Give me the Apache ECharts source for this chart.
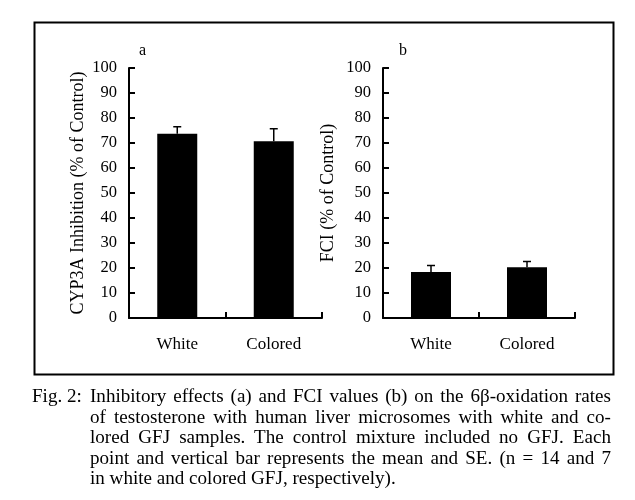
<!DOCTYPE html>
<html>
<head>
<meta charset="utf-8">
<script src="https://cdn.jsdelivr.net/npm/echarts@6/dist/echarts.min.js"></script>
<style>
html,body{margin:0;padding:0;background:#fff;}
#chart{position:absolute;left:0;top:0;width:635px;height:500px;}
.cap{position:absolute;font-family:"Liberation Serif","Times New Roman",serif;font-size:18px;line-height:20.5px;color:#000;white-space:nowrap;transform:scaleX(1.06);transform-origin:0 0;}
#cap{left:90px;top:386px;width:491.5px;}
#cap div{text-align:justify;text-align-last:justify;}
#cap div.last{text-align-last:left;}
#figno{left:32px;top:386px;}
</style>
</head>
<body>
<div id="chart"></div>
<div id="figno" class="cap">Fig. 2:</div>
<div id="cap" class="cap">
<div>Inhibitory effects (a) and FCI values (b) on the 6β-oxidation rates</div>
<div>of testosterone with human liver microsomes with white and co-</div>
<div>lored GFJ samples. The control mixture included no GFJ. Each</div>
<div>point and vertical bar represents the mean and SE. (n = 14 and 7</div>
<div class="last">in white and colored GFJ, respectively).</div>
</div>
<script>
var categories = ['White', 'Colored'];
var inhibitionMean = [73.7, 70.7];
var inhibitionSE = [2.8, 5.0];
var fciMean = [18.4, 20.3];
var fciSE = [2.6, 2.3];
var yTicks = [0, 100, 10];
var yNameA = 'CYP3A Inhibition (% of Control)';
var yNameB = 'FCI (% of Control)';

var FONT = '"Liberation Serif","Times New Roman",serif';
var chart = echarts.init(document.getElementById('chart'), null, {renderer: 'canvas'});

function xAxis(gi) {
  return {
    type: 'category', gridIndex: gi, data: categories, boundaryGap: true,
    axisLine: {lineStyle: {color: '#000', width: 2}},
    axisTick: {show: true, inside: true, length: 6, lineStyle: {color: '#000', width: 2}},
    axisLabel: {color: '#000', fontFamily: FONT, fontSize: 17, margin: 18},
    splitLine: {show: false}
  };
}
function yAxis(gi, name, gap) {
  return {
    type: 'value', gridIndex: gi, min: yTicks[0], max: yTicks[1], interval: yTicks[2],
    name: name, nameLocation: 'middle', nameGap: gap, nameRotate: 90,
    nameTextStyle: {color: '#000', fontFamily: FONT, fontSize: 18},
    axisLine: {show: true, lineStyle: {color: '#000', width: 2}},
    axisTick: {show: true, inside: true, length: 6, lineStyle: {color: '#000', width: 2}},
    axisLabel: {color: '#000', fontFamily: FONT, fontSize: 16.5, margin: 12},
    splitLine: {show: false}
  };
}
function errSeries(gi, mean, se) {
  return {
    type: 'custom', xAxisIndex: gi, yAxisIndex: gi, z: 3,
    data: mean.map(function (m, i) { return [i, m, m + se[i]]; }),
    renderItem: function (params, api) {
      var lo = api.coord([api.value(0), api.value(1)]);
      var hi = api.coord([api.value(0), api.value(2)]);
      var hw = 4;
      return {
        type: 'group',
        children: [
          {type: 'line', shape: {x1: lo[0], y1: lo[1], x2: hi[0], y2: hi[1]}, style: {stroke: '#000', lineWidth: 1.5}},
          {type: 'line', shape: {x1: hi[0] - hw, y1: hi[1], x2: hi[0] + hw, y2: hi[1]}, style: {stroke: '#000', lineWidth: 1.5}}
        ]
      };
    }
  };
}

chart.setOption({
  animation: false,
  backgroundColor: '#fff',
  grid: [
    {left: 129, top: 68, width: 193, height: 250},
    {left: 383, top: 68, width: 192, height: 250}
  ],
  xAxis: [xAxis(0), xAxis(1)],
  yAxis: [yAxis(0, yNameA, 42), yAxis(1, yNameB, 46)],
  series: [
    {type: 'bar', xAxisIndex: 0, yAxisIndex: 0, data: inhibitionMean, barWidth: 40, itemStyle: {color: '#000'}},
    errSeries(0, inhibitionMean, inhibitionSE),
    {type: 'bar', xAxisIndex: 1, yAxisIndex: 1, data: fciMean, barWidth: 40, itemStyle: {color: '#000'}},
    errSeries(1, fciMean, fciSE)
  ],
  graphic: [
    {type: 'rect', left: 32, top: 20, shape: {x: 0, y: 0, width: 579, height: 352}, style: {fill: 'none', stroke: '#000', lineWidth: 2}},
    {type: 'text', left: 139, top: 43, style: {text: 'a', fill: '#000', font: '16px ' + FONT}},
    {type: 'text', left: 399, top: 43, style: {text: 'b', fill: '#000', font: '16px ' + FONT}}
  ]
});
</script>
</body>
</html>
